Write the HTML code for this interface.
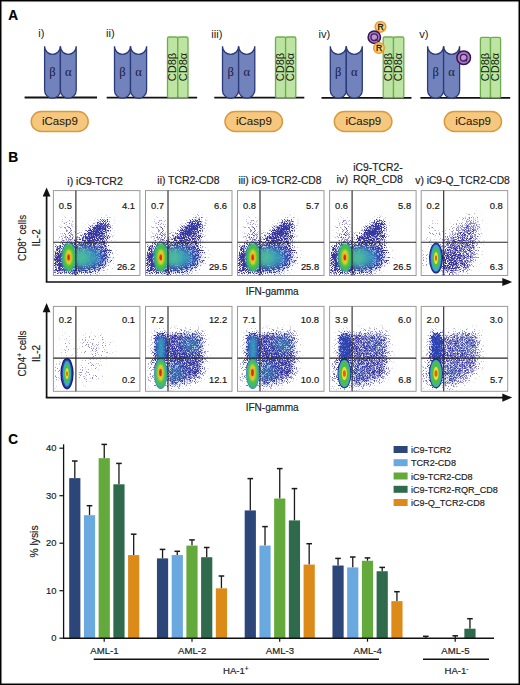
<!DOCTYPE html><html><head><meta charset="utf-8"><style>html,body{margin:0;padding:0;background:#fff;overflow:hidden;}svg{display:block;}</style></head><body><svg width="520" height="685" viewBox="0 0 520 685"><defs><filter id="b05" x="-50%" y="-50%" width="200%" height="200%"><feGaussianBlur stdDeviation="0.5"/></filter><filter id="b07" x="-50%" y="-50%" width="200%" height="200%"><feGaussianBlur stdDeviation="0.7"/></filter><filter id="b1" x="-50%" y="-50%" width="200%" height="200%"><feGaussianBlur stdDeviation="1.0"/></filter><filter id="b15" x="-50%" y="-50%" width="200%" height="200%"><feGaussianBlur stdDeviation="1.5"/></filter><filter id="b2" x="-50%" y="-50%" width="200%" height="200%"><feGaussianBlur stdDeviation="2.0"/></filter><filter id="b3" x="-50%" y="-50%" width="200%" height="200%"><feGaussianBlur stdDeviation="3.0"/></filter><filter id="b4" x="-50%" y="-50%" width="200%" height="200%"><feGaussianBlur stdDeviation="4.0"/></filter><filter id="spN" x="-30%" y="-30%" width="160%" height="160%" color-interpolation-filters="sRGB"><feGaussianBlur in="SourceAlpha" stdDeviation="3.0" result="bl"/><feTurbulence type="fractalNoise" baseFrequency="1.4" numOctaves="1" seed="7" result="nz"/><feColorMatrix in="nz" type="matrix" values="0 0 0 0 0  0 0 0 0 0  0 0 0 0 0  2.6 0 0 0 -0.8" result="na"/><feComposite in="bl" in2="na" operator="arithmetic" k1="0" k2="4" k3="-4" k4="0" result="m"/><feFlood flood-color="#38349a"/><feComposite in2="m" operator="in"/><feGaussianBlur stdDeviation="0.5"/></filter><filter id="spN2" x="-30%" y="-30%" width="160%" height="160%" color-interpolation-filters="sRGB"><feGaussianBlur in="SourceAlpha" stdDeviation="2.0" result="bl"/><feTurbulence type="fractalNoise" baseFrequency="1.4" numOctaves="1" seed="11" result="nz"/><feColorMatrix in="nz" type="matrix" values="0 0 0 0 0  0 0 0 0 0  0 0 0 0 0  2.6 0 0 0 -0.8" result="na"/><feComposite in="bl" in2="na" operator="arithmetic" k1="0" k2="4" k3="-4" k4="0" result="m"/><feFlood flood-color="#38349a"/><feComposite in2="m" operator="in"/><feGaussianBlur stdDeviation="0.5"/></filter><filter id="spL" x="-30%" y="-30%" width="160%" height="160%" color-interpolation-filters="sRGB"><feGaussianBlur in="SourceAlpha" stdDeviation="4.0" result="bl"/><feTurbulence type="fractalNoise" baseFrequency="1.3" numOctaves="1" seed="13" result="nz"/><feColorMatrix in="nz" type="matrix" values="0 0 0 0 0  0 0 0 0 0  0 0 0 0 0  2.6 0 0 0 -0.8" result="na"/><feComposite in="bl" in2="na" operator="arithmetic" k1="0" k2="4" k3="-4" k4="0" result="m"/><feFlood flood-color="#8a84c8"/><feComposite in2="m" operator="in"/><feGaussianBlur stdDeviation="0.55"/></filter><clipPath id="pc"><rect x="0" y="0" width="86.5" height="84.9"/></clipPath></defs><rect x="0" y="0" width="520" height="685" fill="#fff"/><rect x="0.75" y="0.75" width="518.5" height="683.5" fill="none" stroke="#000" stroke-width="1.5"/><rect x="1.75" y="1.75" width="516.5" height="681.5" fill="none" stroke="#888" stroke-width="0.6"/><text transform="translate(8.16,19.90) scale(0.970,1)" font-family='"Liberation Sans", sans-serif' font-size="14" fill="#000" stroke="#000" stroke-width="0.18" font-weight="bold">A</text><text transform="translate(8.30,161.70) scale(0.984,1)" font-family='"Liberation Sans", sans-serif' font-size="14" fill="#000" stroke="#000" stroke-width="0.18" font-weight="bold">B</text><text transform="translate(8.16,444.30) scale(0.971,1)" font-family='"Liberation Sans", sans-serif' font-size="14" fill="#000" stroke="#000" stroke-width="0.18" font-weight="bold">C</text><text transform="translate(38.27,37.10) scale(1.000,1)" font-family='"Liberation Sans", sans-serif' font-size="11.2" fill="#222" stroke="#222" stroke-width="0">i)</text><text transform="translate(105.97,37.30) scale(1.000,1)" font-family='"Liberation Sans", sans-serif' font-size="11.2" fill="#222" stroke="#222" stroke-width="0">ii)</text><text transform="translate(211.17,37.60) scale(1.000,1)" font-family='"Liberation Sans", sans-serif' font-size="11.2" fill="#222" stroke="#222" stroke-width="0">iii)</text><text transform="translate(318.47,37.50) scale(1.000,1)" font-family='"Liberation Sans", sans-serif' font-size="11.2" fill="#222" stroke="#222" stroke-width="0">iv)</text><text transform="translate(419.14,37.50) scale(1.000,1)" font-family='"Liberation Sans", sans-serif' font-size="11.2" fill="#222" stroke="#222" stroke-width="0">v)</text><line x1="24.6" y1="97.5" x2="97.0" y2="97.5" stroke="#111" stroke-width="1.8"/><line x1="106.7" y1="97.6" x2="197.1" y2="97.6" stroke="#111" stroke-width="1.8"/><line x1="214.3" y1="97.7" x2="304.3" y2="97.7" stroke="#111" stroke-width="1.8"/><line x1="321.5" y1="97.8" x2="411.5" y2="97.8" stroke="#111" stroke-width="1.8"/><line x1="420.4" y1="97.8" x2="510.2" y2="97.8" stroke="#111" stroke-width="1.8"/><path d="M44.6,46.3 A7.90,8.00 0 0 0 60.4,46.3 L60.4,90.3 A7.90,7.90 0 0 1 44.6,90.3 Z" fill="#7282bd" stroke="#2b3a78" stroke-width="1.3"/><path d="M60.4,46.3 A7.90,8.00 0 0 0 76.2,46.3 L76.2,90.3 A7.90,7.90 0 0 1 60.4,90.3 Z" fill="#7282bd" stroke="#2b3a78" stroke-width="1.3"/><text x="52.5" y="76" font-family='"Liberation Serif", serif' font-size="12.5" fill="#161a40" text-anchor="middle">&#946;</text><text x="68.3" y="76" font-family='"Liberation Serif", serif' font-size="12.5" fill="#161a40" text-anchor="middle">&#945;</text><path d="M114.5,46.3 A8.00,8.00 0 0 0 130.5,46.3 L130.5,90.2 A8.00,8.00 0 0 1 114.5,90.2 Z" fill="#7282bd" stroke="#2b3a78" stroke-width="1.3"/><path d="M130.5,46.3 A8.05,8.00 0 0 0 146.6,46.3 L146.6,90.2 A8.05,8.05 0 0 1 130.5,90.2 Z" fill="#7282bd" stroke="#2b3a78" stroke-width="1.3"/><text x="122.5" y="76" font-family='"Liberation Serif", serif' font-size="12.5" fill="#161a40" text-anchor="middle">&#946;</text><text x="138.6" y="76" font-family='"Liberation Serif", serif' font-size="12.5" fill="#161a40" text-anchor="middle">&#945;</text><path d="M222.5,46.3 A8.05,8.00 0 0 0 238.6,46.3 L238.6,90.2 A8.05,8.05 0 0 1 222.5,90.2 Z" fill="#7282bd" stroke="#2b3a78" stroke-width="1.3"/><path d="M238.6,46.3 A8.10,8.00 0 0 0 254.8,46.3 L254.8,90.1 A8.10,8.10 0 0 1 238.6,90.1 Z" fill="#7282bd" stroke="#2b3a78" stroke-width="1.3"/><text x="230.6" y="76" font-family='"Liberation Serif", serif' font-size="12.5" fill="#161a40" text-anchor="middle">&#946;</text><text x="246.7" y="76" font-family='"Liberation Serif", serif' font-size="12.5" fill="#161a40" text-anchor="middle">&#945;</text><path d="M330.3,46.3 A8.00,8.00 0 0 0 346.3,46.3 L346.3,90.2 A8.00,8.00 0 0 1 330.3,90.2 Z" fill="#7282bd" stroke="#2b3a78" stroke-width="1.3"/><path d="M346.3,46.3 A8.00,8.00 0 0 0 362.3,46.3 L362.3,90.2 A8.00,8.00 0 0 1 346.3,90.2 Z" fill="#7282bd" stroke="#2b3a78" stroke-width="1.3"/><text x="338.3" y="76" font-family='"Liberation Serif", serif' font-size="12.5" fill="#161a40" text-anchor="middle">&#946;</text><text x="354.3" y="76" font-family='"Liberation Serif", serif' font-size="12.5" fill="#161a40" text-anchor="middle">&#945;</text><path d="M427.6,46.3 A8.00,8.00 0 0 0 443.6,46.3 L443.6,90.2 A8.00,8.00 0 0 1 427.6,90.2 Z" fill="#7282bd" stroke="#2b3a78" stroke-width="1.3"/><path d="M443.6,46.3 A8.00,8.00 0 0 0 459.6,46.3 L459.6,90.2 A8.00,8.00 0 0 1 443.6,90.2 Z" fill="#7282bd" stroke="#2b3a78" stroke-width="1.3"/><text x="435.6" y="76" font-family='"Liberation Serif", serif' font-size="12.5" fill="#161a40" text-anchor="middle">&#946;</text><text x="451.6" y="76" font-family='"Liberation Serif", serif' font-size="12.5" fill="#161a40" text-anchor="middle">&#945;</text><rect x="167.5" y="37.0" width="10.2" height="60.6" rx="1.6" fill="#bde4a2" stroke="#6cae4c" stroke-width="1.3"/><rect x="177.8" y="37.0" width="10.2" height="60.6" rx="1.6" fill="#bde4a2" stroke="#6cae4c" stroke-width="1.3"/><text transform="translate(176.2,67.0) rotate(-90)" font-family='"Liberation Sans", sans-serif' font-size="11" fill="#10200a" text-anchor="middle">CD8&#946;</text><text transform="translate(186.5,67.0) rotate(-90)" font-family='"Liberation Sans", sans-serif' font-size="11" fill="#10200a" text-anchor="middle">CD8&#945;</text><rect x="275.5" y="37.0" width="10.1" height="60.6" rx="1.6" fill="#bde4a2" stroke="#6cae4c" stroke-width="1.3"/><rect x="285.6" y="37.0" width="10.2" height="60.6" rx="1.6" fill="#bde4a2" stroke="#6cae4c" stroke-width="1.3"/><text transform="translate(284.2,67.0) rotate(-90)" font-family='"Liberation Sans", sans-serif' font-size="11" fill="#10200a" text-anchor="middle">CD8&#946;</text><text transform="translate(294.3,67.0) rotate(-90)" font-family='"Liberation Sans", sans-serif' font-size="11" fill="#10200a" text-anchor="middle">CD8&#945;</text><rect x="383.2" y="37.0" width="10.3" height="60.6" rx="1.6" fill="#bde4a2" stroke="#6cae4c" stroke-width="1.3"/><rect x="393.5" y="37.0" width="10.3" height="60.6" rx="1.6" fill="#bde4a2" stroke="#6cae4c" stroke-width="1.3"/><text transform="translate(392.0,67.0) rotate(-90)" font-family='"Liberation Sans", sans-serif' font-size="11" fill="#10200a" text-anchor="middle">CD8&#946;</text><text transform="translate(402.2,67.0) rotate(-90)" font-family='"Liberation Sans", sans-serif' font-size="11" fill="#10200a" text-anchor="middle">CD8&#945;</text><rect x="480.4" y="37.4" width="10.1" height="60.2" rx="1.6" fill="#bde4a2" stroke="#6cae4c" stroke-width="1.3"/><rect x="490.5" y="37.4" width="10.1" height="60.2" rx="1.6" fill="#bde4a2" stroke="#6cae4c" stroke-width="1.3"/><text transform="translate(489.1,67.0) rotate(-90)" font-family='"Liberation Sans", sans-serif' font-size="11" fill="#10200a" text-anchor="middle">CD8&#946;</text><text transform="translate(499.2,67.0) rotate(-90)" font-family='"Liberation Sans", sans-serif' font-size="11" fill="#10200a" text-anchor="middle">CD8&#945;</text><rect x="31.2" y="111.6" width="57.0" height="19.9" rx="10.0" fill="#f5c77f" stroke="#d99a3c" stroke-width="1.5"/><text transform="translate(42.00,125.20) scale(1.000,1)" font-family='"Liberation Sans", sans-serif' font-size="11.5" fill="#1e1808" stroke="#1e1808" stroke-width="0.05">iCasp9</text><rect x="225.0" y="111.6" width="57.4" height="19.9" rx="10.0" fill="#f5c77f" stroke="#d99a3c" stroke-width="1.5"/><text transform="translate(236.00,125.20) scale(1.000,1)" font-family='"Liberation Sans", sans-serif' font-size="11.5" fill="#1e1808" stroke="#1e1808" stroke-width="0.05">iCasp9</text><rect x="334.3" y="111.6" width="57.6" height="19.9" rx="10.0" fill="#f5c77f" stroke="#d99a3c" stroke-width="1.5"/><text transform="translate(345.40,125.20) scale(1.000,1)" font-family='"Liberation Sans", sans-serif' font-size="11.5" fill="#1e1808" stroke="#1e1808" stroke-width="0.05">iCasp9</text><rect x="444.3" y="111.6" width="57.2" height="19.9" rx="10.0" fill="#f5c77f" stroke="#d99a3c" stroke-width="1.5"/><text transform="translate(455.20,125.20) scale(1.000,1)" font-family='"Liberation Sans", sans-serif' font-size="11.5" fill="#1e1808" stroke="#1e1808" stroke-width="0.05">iCasp9</text><circle cx="380.5" cy="26.8" r="5.3" fill="#fcd37a" stroke="#eb9e2a" stroke-width="1.6"/><text x="380.5" y="29.9" font-family='"Liberation Sans", sans-serif' font-size="8.6" fill="#1a1000" stroke="#1a1000" stroke-width="0.3" text-anchor="middle">R</text><circle cx="374.3" cy="37.2" r="6.2" fill="#a47ac4" stroke="#3a124e" stroke-width="1.5"/><circle cx="374.3" cy="37.2" r="3.3" fill="#b89ad2" stroke="#4a1a62" stroke-width="1.3"/><line x1="375.5" y1="38.800000000000004" x2="377.5" y2="40.800000000000004" stroke="#4a1a62" stroke-width="1.2"/><circle cx="379.0" cy="48.0" r="5.3" fill="#fcd37a" stroke="#eb9e2a" stroke-width="1.6"/><text x="379.0" y="51.1" font-family='"Liberation Sans", sans-serif' font-size="8.6" fill="#1a1000" stroke="#1a1000" stroke-width="0.3" text-anchor="middle">R</text><circle cx="463.7" cy="57.7" r="6.8" fill="#a47ac4" stroke="#3a124e" stroke-width="1.5"/><circle cx="463.7" cy="57.7" r="3.3" fill="#b89ad2" stroke="#4a1a62" stroke-width="1.3"/><line x1="464.9" y1="59.300000000000004" x2="466.9" y2="61.300000000000004" stroke="#4a1a62" stroke-width="1.2"/><g transform="translate(53.4,190.6)"><g clip-path="url(#pc)"><g filter="url(#spL)"><path d="M1,57 C6,53 14,52 20,52 L24,50 C30,44 39,36 47,30 C51,27 55,27 56,30 C57,38 56,46 55,52 C55,60 54,70 52,76 C48,81 40,83 30,84 L1,84 Z" fill="#000" fill-opacity="0.6"/><ellipse cx="15" cy="42" rx="7" ry="14" fill="#000" fill-opacity="0.5"/></g><g filter="url(#spN)"><path d="M1,57 C6,53 14,52 20,52 L24,50 C30,44 39,36 47,30 C51,27 55,27 56,30 C57,38 56,46 55,52 C55,60 54,70 52,76 C48,81 40,83 30,84 L1,84 Z" fill="#000" fill-opacity="0.45"/><ellipse cx="15" cy="44" rx="6" ry="11" fill="#000" fill-opacity="0.25"/><ellipse cx="56" cy="66" rx="5" ry="12" fill="#000" fill-opacity="0.3"/></g><g filter="url(#spN2)"><path d="M1,57 C6,53 14,52 20,52 L24,50 C30,44 39,36 47,30 C51,27 55,27 56,30 C57,38 56,46 55,52 C55,60 54,70 52,76 C48,81 40,83 30,84 L1,84 Z" fill="#000" fill-opacity="0.55"/><ellipse cx="22" cy="70" rx="20" ry="11" fill="#000" fill-opacity="0.45"/><ellipse cx="4" cy="70" rx="5" ry="12" fill="#000" fill-opacity="0.4"/><ellipse cx="44" cy="40" rx="10" ry="7" fill="#000" fill-opacity="0.5" transform="rotate(-40 44 40)"/><ellipse cx="38" cy="45" rx="9" ry="5" fill="#000" fill-opacity="0.35" transform="rotate(-40 38 45)"/></g><ellipse cx="46" cy="40" rx="8" ry="5" fill="#2848c0" fill-opacity="0.25" filter="url(#b3)" transform="rotate(-40 46 40)"/><ellipse cx="37" cy="67" rx="17" ry="11" fill="#2848c0" fill-opacity="0.45" filter="url(#b3)"/><ellipse cx="34" cy="67" rx="13" ry="9" fill="#38a6bc" fill-opacity="0.85" filter="url(#b3)"/><ellipse cx="28" cy="67" rx="8" ry="9" fill="#4cbc9a" fill-opacity="0.9" filter="url(#b3)"/><ellipse cx="15.4" cy="66.8" rx="7.4" ry="14.2" fill="#30a8c0" fill-opacity="0.9" filter="url(#b1)"/><ellipse cx="15.5" cy="66.6" rx="6.3" ry="13.2" fill="#44c040" filter="url(#b1)"/><ellipse cx="15.4" cy="66.6" rx="3.2" ry="7.8" fill="#e8e030" filter="url(#b1)"/><ellipse cx="15.3" cy="66.7" rx="2.2" ry="4.8" fill="#f0a018" filter="url(#b1)"/><ellipse cx="15.2" cy="66.8" rx="1.3" ry="2.8" fill="#dd2a12" filter="url(#b07)"/></g><rect x="0" y="0" width="86.5" height="84.9" fill="none" stroke="#9a9a9a" stroke-width="1"/><line x1="22.5" y1="0" x2="22.5" y2="84.9" stroke="#262626" stroke-width="1.1"/><line x1="0" y1="51.7" x2="86.5" y2="51.7" stroke="#262626" stroke-width="1.1"/></g><text transform="translate(58.82,208.80) scale(1.000,1)" font-family='"Liberation Sans", sans-serif' font-size="9.4" fill="#151515" stroke="#151515" stroke-width="0.18">0.5</text><text transform="translate(121.96,208.80) scale(1.000,1)" font-family='"Liberation Sans", sans-serif' font-size="9.4" fill="#151515" stroke="#151515" stroke-width="0.18">4.1</text><text transform="translate(116.89,269.90) scale(1.000,1)" font-family='"Liberation Sans", sans-serif' font-size="9.4" fill="#151515" stroke="#151515" stroke-width="0.18">26.2</text><g transform="translate(145.5,190.6)"><g clip-path="url(#pc)"><g filter="url(#spL)"><path d="M1,57 C6,53 14,52 20,52 L24,50 C30,44 40,34.5 48,28.5 C52,25.5 56,25.5 57,28.5 C58,38 56,46 55,52 C55,60 54,70 52,76 C48,81 40,83 30,84 L1,84 Z" fill="#000" fill-opacity="0.6"/><ellipse cx="15" cy="42" rx="7" ry="14" fill="#000" fill-opacity="0.5"/></g><g filter="url(#spN)"><path d="M1,57 C6,53 14,52 20,52 L24,50 C30,44 40,34.5 48,28.5 C52,25.5 56,25.5 57,28.5 C58,38 56,46 55,52 C55,60 54,70 52,76 C48,81 40,83 30,84 L1,84 Z" fill="#000" fill-opacity="0.45"/><ellipse cx="15" cy="44" rx="6" ry="11" fill="#000" fill-opacity="0.25"/><ellipse cx="56" cy="66" rx="5" ry="12" fill="#000" fill-opacity="0.3"/></g><g filter="url(#spN2)"><path d="M1,57 C6,53 14,52 20,52 L24,50 C30,44 40,34.5 48,28.5 C52,25.5 56,25.5 57,28.5 C58,38 56,46 55,52 C55,60 54,70 52,76 C48,81 40,83 30,84 L1,84 Z" fill="#000" fill-opacity="0.55"/><ellipse cx="22" cy="70" rx="20" ry="11" fill="#000" fill-opacity="0.45"/><ellipse cx="4" cy="70" rx="5" ry="12" fill="#000" fill-opacity="0.4"/><ellipse cx="45" cy="38.5" rx="10" ry="7" fill="#000" fill-opacity="0.5" transform="rotate(-40 45 38.5)"/><ellipse cx="39" cy="43.5" rx="9" ry="5" fill="#000" fill-opacity="0.35" transform="rotate(-40 39 43.5)"/></g><ellipse cx="47" cy="38.5" rx="8" ry="5" fill="#2848c0" fill-opacity="0.25" filter="url(#b3)" transform="rotate(-40 47 38.5)"/><ellipse cx="37" cy="67" rx="17" ry="11" fill="#2848c0" fill-opacity="0.45" filter="url(#b3)"/><ellipse cx="34" cy="67" rx="13" ry="9" fill="#38a6bc" fill-opacity="0.85" filter="url(#b3)"/><ellipse cx="28" cy="67" rx="8" ry="9" fill="#4cbc9a" fill-opacity="0.9" filter="url(#b3)"/><ellipse cx="15.4" cy="66.8" rx="7.4" ry="14.2" fill="#30a8c0" fill-opacity="0.9" filter="url(#b1)"/><ellipse cx="15.5" cy="66.6" rx="6.3" ry="13.2" fill="#44c040" filter="url(#b1)"/><ellipse cx="15.4" cy="66.6" rx="3.2" ry="7.8" fill="#e8e030" filter="url(#b1)"/><ellipse cx="15.3" cy="66.7" rx="2.2" ry="4.8" fill="#f0a018" filter="url(#b1)"/><ellipse cx="15.2" cy="66.8" rx="1.3" ry="2.8" fill="#dd2a12" filter="url(#b07)"/></g><rect x="0" y="0" width="86.5" height="84.9" fill="none" stroke="#9a9a9a" stroke-width="1"/><line x1="22.5" y1="0" x2="22.5" y2="84.9" stroke="#262626" stroke-width="1.1"/><line x1="0" y1="51.7" x2="86.5" y2="51.7" stroke="#262626" stroke-width="1.1"/></g><text transform="translate(150.92,208.80) scale(1.000,1)" font-family='"Liberation Sans", sans-serif' font-size="9.4" fill="#151515" stroke="#151515" stroke-width="0.18">0.7</text><text transform="translate(214.01,208.80) scale(1.000,1)" font-family='"Liberation Sans", sans-serif' font-size="9.4" fill="#151515" stroke="#151515" stroke-width="0.18">6.6</text><text transform="translate(208.89,269.90) scale(1.000,1)" font-family='"Liberation Sans", sans-serif' font-size="9.4" fill="#151515" stroke="#151515" stroke-width="0.18">29.5</text><g transform="translate(237.5,190.6)"><g clip-path="url(#pc)"><g filter="url(#spL)"><path d="M1,57 C6,53 14,52 20,52 L24,50 C30,44 39,36 47,30 C51,27 55,27 56,30 C57,38 56,46 55,52 C55,60 54,70 52,76 C48,81 40,83 30,84 L1,84 Z" fill="#000" fill-opacity="0.6"/><ellipse cx="15" cy="42" rx="7" ry="14" fill="#000" fill-opacity="0.5"/></g><g filter="url(#spN)"><path d="M1,57 C6,53 14,52 20,52 L24,50 C30,44 39,36 47,30 C51,27 55,27 56,30 C57,38 56,46 55,52 C55,60 54,70 52,76 C48,81 40,83 30,84 L1,84 Z" fill="#000" fill-opacity="0.45"/><ellipse cx="15" cy="44" rx="6" ry="11" fill="#000" fill-opacity="0.25"/><ellipse cx="56" cy="66" rx="5" ry="12" fill="#000" fill-opacity="0.3"/></g><g filter="url(#spN2)"><path d="M1,57 C6,53 14,52 20,52 L24,50 C30,44 39,36 47,30 C51,27 55,27 56,30 C57,38 56,46 55,52 C55,60 54,70 52,76 C48,81 40,83 30,84 L1,84 Z" fill="#000" fill-opacity="0.55"/><ellipse cx="22" cy="70" rx="20" ry="11" fill="#000" fill-opacity="0.45"/><ellipse cx="4" cy="70" rx="5" ry="12" fill="#000" fill-opacity="0.4"/><ellipse cx="44" cy="40" rx="10" ry="7" fill="#000" fill-opacity="0.5" transform="rotate(-40 44 40)"/><ellipse cx="38" cy="45" rx="9" ry="5" fill="#000" fill-opacity="0.35" transform="rotate(-40 38 45)"/></g><ellipse cx="46" cy="40" rx="8" ry="5" fill="#2848c0" fill-opacity="0.25" filter="url(#b3)" transform="rotate(-40 46 40)"/><ellipse cx="37" cy="67" rx="17" ry="11" fill="#2848c0" fill-opacity="0.45" filter="url(#b3)"/><ellipse cx="34" cy="67" rx="13" ry="9" fill="#38a6bc" fill-opacity="0.85" filter="url(#b3)"/><ellipse cx="28" cy="67" rx="8" ry="9" fill="#4cbc9a" fill-opacity="0.9" filter="url(#b3)"/><ellipse cx="15.4" cy="66.8" rx="7.4" ry="14.2" fill="#30a8c0" fill-opacity="0.9" filter="url(#b1)"/><ellipse cx="15.5" cy="66.6" rx="6.3" ry="13.2" fill="#44c040" filter="url(#b1)"/><ellipse cx="15.4" cy="66.6" rx="3.2" ry="7.8" fill="#e8e030" filter="url(#b1)"/><ellipse cx="15.3" cy="66.7" rx="2.2" ry="4.8" fill="#f0a018" filter="url(#b1)"/><ellipse cx="15.2" cy="66.8" rx="1.3" ry="2.8" fill="#dd2a12" filter="url(#b07)"/></g><rect x="0" y="0" width="86.5" height="84.9" fill="none" stroke="#9a9a9a" stroke-width="1"/><line x1="22.5" y1="0" x2="22.5" y2="84.9" stroke="#262626" stroke-width="1.1"/><line x1="0" y1="51.7" x2="86.5" y2="51.7" stroke="#262626" stroke-width="1.1"/></g><text transform="translate(242.92,208.80) scale(1.000,1)" font-family='"Liberation Sans", sans-serif' font-size="9.4" fill="#151515" stroke="#151515" stroke-width="0.18">0.8</text><text transform="translate(306.10,208.80) scale(1.000,1)" font-family='"Liberation Sans", sans-serif' font-size="9.4" fill="#151515" stroke="#151515" stroke-width="0.18">5.7</text><text transform="translate(300.89,269.90) scale(1.000,1)" font-family='"Liberation Sans", sans-serif' font-size="9.4" fill="#151515" stroke="#151515" stroke-width="0.18">25.8</text><g transform="translate(329.6,190.6)"><g clip-path="url(#pc)"><g filter="url(#spL)"><path d="M1,57 C6,53 14,52 20,52 L24,50 C30,44 38.5,36 46.5,30 C50.5,27 54.5,27 55.5,30 C56.5,38 56,46 55,52 C55,60 54,70 52,76 C48,81 40,83 30,84 L1,84 Z" fill="#000" fill-opacity="0.6"/><ellipse cx="15" cy="42" rx="7" ry="14" fill="#000" fill-opacity="0.5"/></g><g filter="url(#spN)"><path d="M1,57 C6,53 14,52 20,52 L24,50 C30,44 38.5,36 46.5,30 C50.5,27 54.5,27 55.5,30 C56.5,38 56,46 55,52 C55,60 54,70 52,76 C48,81 40,83 30,84 L1,84 Z" fill="#000" fill-opacity="0.45"/><ellipse cx="15" cy="44" rx="6" ry="11" fill="#000" fill-opacity="0.25"/><ellipse cx="56" cy="66" rx="5" ry="12" fill="#000" fill-opacity="0.3"/></g><g filter="url(#spN2)"><path d="M1,57 C6,53 14,52 20,52 L24,50 C30,44 38.5,36 46.5,30 C50.5,27 54.5,27 55.5,30 C56.5,38 56,46 55,52 C55,60 54,70 52,76 C48,81 40,83 30,84 L1,84 Z" fill="#000" fill-opacity="0.55"/><ellipse cx="22" cy="70" rx="20" ry="11" fill="#000" fill-opacity="0.45"/><ellipse cx="4" cy="70" rx="5" ry="12" fill="#000" fill-opacity="0.4"/><ellipse cx="43.5" cy="40" rx="10" ry="7" fill="#000" fill-opacity="0.5" transform="rotate(-40 43.5 40)"/><ellipse cx="37.5" cy="45" rx="9" ry="5" fill="#000" fill-opacity="0.35" transform="rotate(-40 37.5 45)"/></g><ellipse cx="45.5" cy="40" rx="8" ry="5" fill="#2848c0" fill-opacity="0.25" filter="url(#b3)" transform="rotate(-40 45.5 40)"/><ellipse cx="37" cy="67" rx="17" ry="11" fill="#2848c0" fill-opacity="0.45" filter="url(#b3)"/><ellipse cx="34" cy="67" rx="13" ry="9" fill="#38a6bc" fill-opacity="0.85" filter="url(#b3)"/><ellipse cx="28" cy="67" rx="8" ry="9" fill="#4cbc9a" fill-opacity="0.9" filter="url(#b3)"/><ellipse cx="15.4" cy="66.8" rx="7.4" ry="14.2" fill="#30a8c0" fill-opacity="0.9" filter="url(#b1)"/><ellipse cx="15.5" cy="66.6" rx="6.3" ry="13.2" fill="#44c040" filter="url(#b1)"/><ellipse cx="15.4" cy="66.6" rx="3.2" ry="7.8" fill="#e8e030" filter="url(#b1)"/><ellipse cx="15.3" cy="66.7" rx="2.2" ry="4.8" fill="#f0a018" filter="url(#b1)"/><ellipse cx="15.2" cy="66.8" rx="1.3" ry="2.8" fill="#dd2a12" filter="url(#b07)"/></g><rect x="0" y="0" width="86.5" height="84.9" fill="none" stroke="#9a9a9a" stroke-width="1"/><line x1="22.5" y1="0" x2="22.5" y2="84.9" stroke="#262626" stroke-width="1.1"/><line x1="0" y1="51.7" x2="86.5" y2="51.7" stroke="#262626" stroke-width="1.1"/></g><text transform="translate(335.02,208.80) scale(1.000,1)" font-family='"Liberation Sans", sans-serif' font-size="9.4" fill="#151515" stroke="#151515" stroke-width="0.18">0.6</text><text transform="translate(398.11,208.80) scale(1.000,1)" font-family='"Liberation Sans", sans-serif' font-size="9.4" fill="#151515" stroke="#151515" stroke-width="0.18">5.8</text><text transform="translate(392.99,269.90) scale(1.000,1)" font-family='"Liberation Sans", sans-serif' font-size="9.4" fill="#151515" stroke="#151515" stroke-width="0.18">26.5</text><g transform="translate(421.2,190.6)"><g clip-path="url(#pc)"><g filter="url(#spL)"><path d="M20,52 C28,42 38,32 48,26 C54,24 58,26 58,32 C58,45 57,60 55,70 C52,78 46,82 38,84 L20,84 Z" fill="#000" fill-opacity="0.7"/><ellipse cx="13" cy="44" rx="6" ry="13" fill="#000" fill-opacity="0.4"/><ellipse cx="4" cy="68" rx="5" ry="12" fill="#000" fill-opacity="0.35"/></g><g filter="url(#spN)"><path d="M21,55 C28,48 36,42 44,36 C50,33 54,36 54,44 C54,55 52,64 50,72 C46,79 40,82 32,84 L21,84 Z" fill="#000" fill-opacity="0.5"/></g><g filter="url(#spN2)"><ellipse cx="29" cy="70" rx="10" ry="11" fill="#000" fill-opacity="0.55"/></g><ellipse cx="14.8" cy="67.5" rx="7.0" ry="15.4" fill="#1c1a70" filter="url(#b07)"/><ellipse cx="14.8" cy="67.5" rx="6.16" ry="14.48" fill="#2848c0" filter="url(#b07)"/><ellipse cx="14.8" cy="67.5" rx="5.04" ry="13.24" fill="#3aaabb" filter="url(#b07)"/><ellipse cx="14.8" cy="67.5" rx="3.5" ry="10.16" fill="#4cbf4a" filter="url(#b07)"/><ellipse cx="14.8" cy="67.5" rx="2.1" ry="6.16" fill="#e8e030" filter="url(#b07)"/><ellipse cx="14.8" cy="67.5" rx="1.05" ry="2.93" fill="#e86010" filter="url(#b05)"/></g><rect x="0" y="0" width="86.5" height="84.9" fill="none" stroke="#9a9a9a" stroke-width="1"/><line x1="22.5" y1="0" x2="22.5" y2="84.9" stroke="#262626" stroke-width="1.1"/><line x1="0" y1="51.7" x2="86.5" y2="51.7" stroke="#262626" stroke-width="1.1"/></g><text transform="translate(426.62,208.80) scale(1.000,1)" font-family='"Liberation Sans", sans-serif' font-size="9.4" fill="#151515" stroke="#151515" stroke-width="0.18">0.2</text><text transform="translate(489.71,208.80) scale(1.000,1)" font-family='"Liberation Sans", sans-serif' font-size="9.4" fill="#151515" stroke="#151515" stroke-width="0.18">0.8</text><text transform="translate(489.81,269.90) scale(1.000,1)" font-family='"Liberation Sans", sans-serif' font-size="9.4" fill="#151515" stroke="#151515" stroke-width="0.18">6.3</text><line x1="46.6" y1="282.0" x2="46.6" y2="193.4" stroke="#111" stroke-width="1.7"/><path d="M46.6,187.4 L42.7,196.6 L50.5,196.6 Z" fill="#111"/><line x1="45.8" y1="282.0" x2="506" y2="282.0" stroke="#111" stroke-width="1.7"/><path d="M512.2,282.0 L502.3,277.9 L502.3,286.1 Z" fill="#111"/><text transform="translate(245.70,294.90) scale(0.939,1)" font-family='"Liberation Sans", sans-serif' font-size="10.7" fill="#222" stroke="#222" stroke-width="0.18">IFN-gamma</text><text transform="translate(26.4,260.9) rotate(-90)" font-family='"Liberation Sans", sans-serif' font-size="11.2" fill="#222" stroke="#222" stroke-width="0.18" textLength="46" lengthAdjust="spacingAndGlyphs">CD8<tspan font-size="7.5" dy="-4.2">+</tspan><tspan dy="4.2"> cells</tspan></text><text transform="translate(39.7,246.5) rotate(-90)" font-family='"Liberation Sans", sans-serif' font-size="10.5" fill="#222" stroke="#222" stroke-width="0.18" textLength="17.3" lengthAdjust="spacingAndGlyphs">IL-2</text><g transform="translate(53.4,306.4)"><g clip-path="url(#pc)"><g filter="url(#spL)"><ellipse cx="42" cy="40" rx="17" ry="13" fill="#000" fill-opacity="0.3"/><ellipse cx="36" cy="66" rx="14" ry="12" fill="#000" fill-opacity="0.28"/><ellipse cx="13" cy="40" rx="4" ry="12" fill="#000" fill-opacity="0.4"/><ellipse cx="5" cy="68" rx="5" ry="12" fill="#000" fill-opacity="0.4"/></g><ellipse cx="13.6" cy="67.2" rx="6.6" ry="15.8" fill="#1c1a70" filter="url(#b07)"/><ellipse cx="13.6" cy="67.2" rx="5.28" ry="14.22" fill="#2848c0" filter="url(#b07)"/><ellipse cx="13.6" cy="67.2" rx="4.09" ry="12.64" fill="#3aaabb" filter="url(#b07)"/><ellipse cx="13.6" cy="67.2" rx="2.9" ry="9.48" fill="#4cbf4a" filter="url(#b07)"/><ellipse cx="13.6" cy="67.2" rx="1.72" ry="5.69" fill="#e8e030" filter="url(#b07)"/><ellipse cx="13.6" cy="67.2" rx="0.86" ry="2.69" fill="#e86010" filter="url(#b05)"/></g><rect x="0" y="0" width="86.5" height="84.9" fill="none" stroke="#9a9a9a" stroke-width="1"/><line x1="22.5" y1="0" x2="22.5" y2="84.9" stroke="#262626" stroke-width="1.1"/><line x1="0" y1="51.7" x2="86.5" y2="51.7" stroke="#262626" stroke-width="1.1"/></g><text transform="translate(58.82,322.90) scale(1.000,1)" font-family='"Liberation Sans", sans-serif' font-size="9.4" fill="#151515" stroke="#151515" stroke-width="0.18">0.2</text><text transform="translate(121.96,322.90) scale(1.000,1)" font-family='"Liberation Sans", sans-serif' font-size="9.4" fill="#151515" stroke="#151515" stroke-width="0.18">0.1</text><text transform="translate(122.10,382.60) scale(1.000,1)" font-family='"Liberation Sans", sans-serif' font-size="9.4" fill="#151515" stroke="#151515" stroke-width="0.18">0.2</text><g transform="translate(145.5,306.4)"><g clip-path="url(#pc)"><g filter="url(#spL)"><path d="M21,28 C30,25 48,24 57,26 C60,40 59,60 57,71 C48,76 35,80 21,82 Z" fill="#000" fill-opacity="0.75"/><ellipse cx="15" cy="44" rx="8" ry="20" fill="#000" fill-opacity="0.5"/><ellipse cx="6" cy="68" rx="5" ry="14" fill="#000" fill-opacity="0.35"/></g><g filter="url(#spN)"><path d="M21,28 C30,25 48,24 57,26 C60,40 59,60 57,71 C48,76 35,80 21,82 Z" fill="#000" fill-opacity="0.4"/><ellipse cx="15" cy="44" rx="7" ry="20" fill="#000" fill-opacity="0.5"/><ellipse cx="14" cy="66" rx="9" ry="16" fill="#000" fill-opacity="0.35"/></g><g filter="url(#spN2)"><path d="M23,31 C31,28 47,28 54,29 C56,42 55,58 54,68 C46,73 35,76 23,78 Z" fill="#000" fill-opacity="0.6000000000000001"/><rect x="9.5" y="26.5" width="12" height="28" rx="4" fill="#000" fill-opacity="0.9"/></g><path d="M23,31 C31,28 47,28 54,29 C56,42 55,58 54,68 C46,73 35,76 23,78 Z" fill="#2848c0" fill-opacity="0.17600000000000002" filter="url(#b3)"/><rect x="10" y="28" width="11" height="26" rx="4" fill="#2a50c0" fill-opacity="0.55" filter="url(#b15)"/><rect x="12" y="31" width="7" height="22" rx="3.5" fill="#3aa8c0" fill-opacity="0.8" filter="url(#b15)"/><ellipse cx="45" cy="38" rx="9" ry="7" fill="#3aaabb" fill-opacity="0.45" filter="url(#b3)"/><ellipse cx="30" cy="66" rx="8" ry="9" fill="#3aaabb" fill-opacity="0.4" filter="url(#b3)"/><ellipse cx="15.2" cy="67.2" rx="6.7" ry="15.4" fill="#2a70c0" fill-opacity="0.9" filter="url(#b07)"/><ellipse cx="15.2" cy="67.2" rx="6.0" ry="14.6" fill="#36a8b8" filter="url(#b07)"/><ellipse cx="15.2" cy="67.0" rx="5.1" ry="13.4" fill="#4cbf4a" filter="url(#b1)"/><ellipse cx="15.1" cy="66.3" rx="2.9" ry="8.4" fill="#e8e030" filter="url(#b1)"/><ellipse cx="15.0" cy="66.2" rx="2.0" ry="5.6" fill="#f0a018" filter="url(#b1)"/><ellipse cx="15.0" cy="66.2" rx="1.3" ry="3.6" fill="#dd2a12" filter="url(#b07)"/></g><rect x="0" y="0" width="86.5" height="84.9" fill="none" stroke="#9a9a9a" stroke-width="1"/><line x1="22.5" y1="0" x2="22.5" y2="84.9" stroke="#262626" stroke-width="1.1"/><line x1="0" y1="51.7" x2="86.5" y2="51.7" stroke="#262626" stroke-width="1.1"/></g><text transform="translate(150.83,322.90) scale(1.000,1)" font-family='"Liberation Sans", sans-serif' font-size="9.4" fill="#151515" stroke="#151515" stroke-width="0.18">7.2</text><text transform="translate(208.89,322.90) scale(1.000,1)" font-family='"Liberation Sans", sans-serif' font-size="9.4" fill="#151515" stroke="#151515" stroke-width="0.18">12.2</text><text transform="translate(208.94,382.60) scale(1.000,1)" font-family='"Liberation Sans", sans-serif' font-size="9.4" fill="#151515" stroke="#151515" stroke-width="0.18">12.1</text><g transform="translate(237.5,306.4)"><g clip-path="url(#pc)"><g filter="url(#spL)"><path d="M21,28 C30,25 48,24 57,26 C60,40 59,60 57,71 C48,76 35,80 21,82 Z" fill="#000" fill-opacity="0.75"/><ellipse cx="15" cy="44" rx="8" ry="20" fill="#000" fill-opacity="0.5"/><ellipse cx="6" cy="68" rx="5" ry="14" fill="#000" fill-opacity="0.35"/></g><g filter="url(#spN)"><path d="M21,28 C30,25 48,24 57,26 C60,40 59,60 57,71 C48,76 35,80 21,82 Z" fill="#000" fill-opacity="0.4"/><ellipse cx="15" cy="44" rx="7" ry="20" fill="#000" fill-opacity="0.5"/><ellipse cx="14" cy="66" rx="9" ry="16" fill="#000" fill-opacity="0.35"/></g><g filter="url(#spN2)"><path d="M23,31 C31,28 47,28 54,29 C56,42 55,58 54,68 C46,73 35,76 23,78 Z" fill="#000" fill-opacity="0.6000000000000001"/><rect x="9.5" y="26.5" width="12" height="28" rx="4" fill="#000" fill-opacity="0.9"/></g><path d="M23,31 C31,28 47,28 54,29 C56,42 55,58 54,68 C46,73 35,76 23,78 Z" fill="#2848c0" fill-opacity="0.17600000000000002" filter="url(#b3)"/><rect x="10" y="28" width="11" height="26" rx="4" fill="#2a50c0" fill-opacity="0.55" filter="url(#b15)"/><rect x="12" y="31" width="7" height="22" rx="3.5" fill="#3aa8c0" fill-opacity="0.8" filter="url(#b15)"/><ellipse cx="45" cy="38" rx="9" ry="7" fill="#3aaabb" fill-opacity="0.45" filter="url(#b3)"/><ellipse cx="30" cy="66" rx="8" ry="9" fill="#3aaabb" fill-opacity="0.4" filter="url(#b3)"/><ellipse cx="15.2" cy="67.2" rx="6.7" ry="15.4" fill="#2a70c0" fill-opacity="0.9" filter="url(#b07)"/><ellipse cx="15.2" cy="67.2" rx="6.0" ry="14.6" fill="#36a8b8" filter="url(#b07)"/><ellipse cx="15.2" cy="67.0" rx="5.1" ry="13.4" fill="#4cbf4a" filter="url(#b1)"/><ellipse cx="15.1" cy="66.3" rx="2.9" ry="8.4" fill="#e8e030" filter="url(#b1)"/><ellipse cx="15.0" cy="66.2" rx="2.0" ry="5.6" fill="#f0a018" filter="url(#b1)"/><ellipse cx="15.0" cy="66.2" rx="1.3" ry="3.6" fill="#dd2a12" filter="url(#b07)"/></g><rect x="0" y="0" width="86.5" height="84.9" fill="none" stroke="#9a9a9a" stroke-width="1"/><line x1="22.5" y1="0" x2="22.5" y2="84.9" stroke="#262626" stroke-width="1.1"/><line x1="0" y1="51.7" x2="86.5" y2="51.7" stroke="#262626" stroke-width="1.1"/></g><text transform="translate(242.83,322.90) scale(1.000,1)" font-family='"Liberation Sans", sans-serif' font-size="9.4" fill="#151515" stroke="#151515" stroke-width="0.18">7.1</text><text transform="translate(300.79,322.90) scale(1.000,1)" font-family='"Liberation Sans", sans-serif' font-size="9.4" fill="#151515" stroke="#151515" stroke-width="0.18">10.8</text><text transform="translate(300.85,382.60) scale(1.000,1)" font-family='"Liberation Sans", sans-serif' font-size="9.4" fill="#151515" stroke="#151515" stroke-width="0.18">10.0</text><g transform="translate(329.6,306.4)"><g clip-path="url(#pc)"><g filter="url(#spL)"><path d="M21,28 C30,25 48,24 57,26 C60,40 59,60 57,71 C48,76 35,80 21,82 Z" fill="#000" fill-opacity="0.75"/><ellipse cx="15" cy="44" rx="8" ry="20" fill="#000" fill-opacity="0.5"/><ellipse cx="6" cy="68" rx="5" ry="14" fill="#000" fill-opacity="0.5"/></g><g filter="url(#spN)"><path d="M21,28 C30,25 48,24 57,26 C60,40 59,60 57,71 C48,76 35,80 21,82 Z" fill="#000" fill-opacity="0.31"/><ellipse cx="15" cy="44" rx="7" ry="20" fill="#000" fill-opacity="0.5"/><ellipse cx="14" cy="66" rx="9" ry="16" fill="#000" fill-opacity="0.5"/></g><g filter="url(#spN2)"><path d="M23,31 C31,28 47,28 54,29 C56,42 55,58 54,68 C46,73 35,76 23,78 Z" fill="#000" fill-opacity="0.46499999999999997"/><rect x="9.5" y="26.5" width="12" height="28" rx="4" fill="#000" fill-opacity="0.9"/></g><path d="M23,31 C31,28 47,28 54,29 C56,42 55,58 54,68 C46,73 35,76 23,78 Z" fill="#2848c0" fill-opacity="0.1364" filter="url(#b3)"/><rect x="10.5" y="28" width="10" height="25" rx="4" fill="#2a50c0" fill-opacity="0.6" filter="url(#b15)"/><ellipse cx="45" cy="38" rx="9" ry="7" fill="#3aaabb" fill-opacity="0.15" filter="url(#b3)"/><ellipse cx="30" cy="66" rx="8" ry="9" fill="#3aaabb" fill-opacity="0.15" filter="url(#b3)"/><ellipse cx="14.8" cy="67.1" rx="6.9" ry="14.8" fill="#1c1a70" filter="url(#b07)"/><ellipse cx="14.8" cy="67.1" rx="6.42" ry="14.21" fill="#2848c0" filter="url(#b07)"/><ellipse cx="14.8" cy="67.1" rx="5.93" ry="13.62" fill="#3aaabb" filter="url(#b07)"/><ellipse cx="14.8" cy="67.1" rx="4.69" ry="12.73" fill="#4cbf4a" filter="url(#b07)"/><ellipse cx="14.8" cy="67.1" rx="2.55" ry="6.66" fill="#e8e030" filter="url(#b07)"/><ellipse cx="14.8" cy="67.1" rx="1.52" ry="3.26" fill="#e86010" filter="url(#b05)"/></g><rect x="0" y="0" width="86.5" height="84.9" fill="none" stroke="#9a9a9a" stroke-width="1"/><line x1="22.5" y1="0" x2="22.5" y2="84.9" stroke="#262626" stroke-width="1.1"/><line x1="0" y1="51.7" x2="86.5" y2="51.7" stroke="#262626" stroke-width="1.1"/></g><text transform="translate(335.02,322.90) scale(1.000,1)" font-family='"Liberation Sans", sans-serif' font-size="9.4" fill="#151515" stroke="#151515" stroke-width="0.18">3.9</text><text transform="translate(398.06,322.90) scale(1.000,1)" font-family='"Liberation Sans", sans-serif' font-size="9.4" fill="#151515" stroke="#151515" stroke-width="0.18">6.0</text><text transform="translate(398.21,382.60) scale(1.000,1)" font-family='"Liberation Sans", sans-serif' font-size="9.4" fill="#151515" stroke="#151515" stroke-width="0.18">6.8</text><g transform="translate(421.2,306.4)"><g clip-path="url(#pc)"><g filter="url(#spL)"><path d="M21,30 C30,26 48,24 57,26 C60,40 58,55 56,64 C50,72 38,80 21,82 Z" fill="#000" fill-opacity="0.75"/><ellipse cx="15" cy="44" rx="8" ry="20" fill="#000" fill-opacity="0.5"/><ellipse cx="6" cy="68" rx="5" ry="14" fill="#000" fill-opacity="0.5"/></g><g filter="url(#spN)"><path d="M21,30 C30,26 48,24 57,26 C60,40 58,55 56,64 C50,72 38,80 21,82 Z" fill="#000" fill-opacity="0.26"/><ellipse cx="15" cy="44" rx="7" ry="20" fill="#000" fill-opacity="0.5"/><ellipse cx="14" cy="66" rx="9" ry="16" fill="#000" fill-opacity="0.5"/></g><g filter="url(#spN2)"><path d="M23,33 C31,29 47,28 53,30 C55,42 54,52 52,60 C46,68 35,74 23,77 Z" fill="#000" fill-opacity="0.39"/><rect x="9.5" y="26.5" width="12" height="28" rx="4" fill="#000" fill-opacity="0.9"/></g><path d="M23,33 C31,29 47,28 53,30 C55,42 54,52 52,60 C46,68 35,74 23,77 Z" fill="#2848c0" fill-opacity="0.1144" filter="url(#b3)"/><rect x="10.5" y="28" width="10" height="25" rx="4" fill="#2a50c0" fill-opacity="0.6" filter="url(#b15)"/><ellipse cx="45" cy="38" rx="9" ry="7" fill="#3aaabb" fill-opacity="0.15" filter="url(#b3)"/><ellipse cx="30" cy="66" rx="8" ry="9" fill="#3aaabb" fill-opacity="0.15" filter="url(#b3)"/><ellipse cx="14.8" cy="67.1" rx="6.9" ry="14.8" fill="#1c1a70" filter="url(#b07)"/><ellipse cx="14.8" cy="67.1" rx="6.42" ry="14.21" fill="#2848c0" filter="url(#b07)"/><ellipse cx="14.8" cy="67.1" rx="5.93" ry="13.62" fill="#3aaabb" filter="url(#b07)"/><ellipse cx="14.8" cy="67.1" rx="4.69" ry="12.73" fill="#4cbf4a" filter="url(#b07)"/><ellipse cx="14.8" cy="67.1" rx="2.55" ry="6.66" fill="#e8e030" filter="url(#b07)"/><ellipse cx="14.8" cy="67.1" rx="1.52" ry="3.26" fill="#e86010" filter="url(#b05)"/></g><rect x="0" y="0" width="86.5" height="84.9" fill="none" stroke="#9a9a9a" stroke-width="1"/><line x1="22.5" y1="0" x2="22.5" y2="84.9" stroke="#262626" stroke-width="1.1"/><line x1="0" y1="51.7" x2="86.5" y2="51.7" stroke="#262626" stroke-width="1.1"/></g><text transform="translate(426.53,322.90) scale(1.000,1)" font-family='"Liberation Sans", sans-serif' font-size="9.4" fill="#151515" stroke="#151515" stroke-width="0.18">2.0</text><text transform="translate(489.66,322.90) scale(1.000,1)" font-family='"Liberation Sans", sans-serif' font-size="9.4" fill="#151515" stroke="#151515" stroke-width="0.18">3.0</text><text transform="translate(489.90,382.60) scale(1.000,1)" font-family='"Liberation Sans", sans-serif' font-size="9.4" fill="#151515" stroke="#151515" stroke-width="0.18">5.7</text><line x1="46.6" y1="397.6" x2="46.6" y2="309.0" stroke="#111" stroke-width="1.7"/><path d="M46.6,303.0 L42.7,312.2 L50.5,312.2 Z" fill="#111"/><line x1="45.8" y1="397.6" x2="506" y2="397.6" stroke="#111" stroke-width="1.7"/><path d="M512.2,397.6 L502.3,393.5 L502.3,401.70000000000005 Z" fill="#111"/><text transform="translate(245.70,410.50) scale(0.939,1)" font-family='"Liberation Sans", sans-serif' font-size="10.7" fill="#222" stroke="#222" stroke-width="0.18">IFN-gamma</text><text transform="translate(26.4,376.5) rotate(-90)" font-family='"Liberation Sans", sans-serif' font-size="11.2" fill="#222" stroke="#222" stroke-width="0.18" textLength="46" lengthAdjust="spacingAndGlyphs">CD4<tspan font-size="7.5" dy="-4.2">+</tspan><tspan dy="4.2"> cells</tspan></text><text transform="translate(39.7,362.1) rotate(-90)" font-family='"Liberation Sans", sans-serif' font-size="10.5" fill="#222" stroke="#222" stroke-width="0.18" textLength="17.3" lengthAdjust="spacingAndGlyphs">IL-2</text><text transform="translate(67.32,184.60) scale(0.993,1)" font-family='"Liberation Sans", sans-serif' font-size="10.6" fill="#222" stroke="#222" stroke-width="0.18">i) iC9-TCR2</text><text transform="translate(157.33,184.40) scale(0.980,1)" font-family='"Liberation Sans", sans-serif' font-size="10.6" fill="#222" stroke="#222" stroke-width="0.18">ii) TCR2-CD8</text><text transform="translate(238.43,183.50) scale(0.975,1)" font-family='"Liberation Sans", sans-serif' font-size="10.6" fill="#222" stroke="#222" stroke-width="0.18">iii) iC9-TCR2-CD8</text><text transform="translate(336.60,182.70) scale(1.020,1)" font-family='"Liberation Sans", sans-serif' font-size="10.6" fill="#222" stroke="#222" stroke-width="0.18">iv)</text><text transform="translate(353.07,182.70) scale(0.980,1)" font-family='"Liberation Sans", sans-serif' font-size="10.6" fill="#222" stroke="#222" stroke-width="0.18">RQR_CD8</text><text transform="translate(353.23,171.40) scale(0.978,1)" font-family='"Liberation Sans", sans-serif' font-size="10.6" fill="#222" stroke="#222" stroke-width="0.18">iC9-TCR2-</text><text transform="translate(415.25,183.60) scale(0.968,1)" font-family='"Liberation Sans", sans-serif' font-size="10.6" fill="#222" stroke="#222" stroke-width="0.18">v) iC9-Q_TCR2-CD8</text><line x1="74.80" y1="478.1" x2="74.80" y2="461.0" stroke="#1a1a1a" stroke-width="1.3"/><line x1="72.00" y1="461.0" x2="77.60" y2="461.0" stroke="#1a1a1a" stroke-width="1.5"/><rect x="69.20" y="478.12" width="11.2" height="160.08" fill="#2c4679"/><line x1="89.52" y1="515.2" x2="89.52" y2="505.7" stroke="#1a1a1a" stroke-width="1.3"/><line x1="86.72" y1="505.7" x2="92.32" y2="505.7" stroke="#1a1a1a" stroke-width="1.5"/><rect x="83.92" y="515.18" width="11.2" height="123.02" fill="#69a9e0"/><line x1="104.24" y1="458.2" x2="104.24" y2="444.4" stroke="#1a1a1a" stroke-width="1.3"/><line x1="101.44" y1="444.4" x2="107.04" y2="444.4" stroke="#1a1a1a" stroke-width="1.5"/><rect x="98.64" y="458.18" width="11.2" height="180.03" fill="#64a93b"/><line x1="118.96" y1="484.3" x2="118.96" y2="463.4" stroke="#1a1a1a" stroke-width="1.3"/><line x1="116.16" y1="463.4" x2="121.76" y2="463.4" stroke="#1a1a1a" stroke-width="1.5"/><rect x="113.36" y="484.30" width="11.2" height="153.90" fill="#2f6a4c"/><line x1="133.68" y1="555.1" x2="133.68" y2="534.2" stroke="#1a1a1a" stroke-width="1.3"/><line x1="130.88" y1="534.2" x2="136.48" y2="534.2" stroke="#1a1a1a" stroke-width="1.5"/><rect x="128.08" y="555.08" width="11.2" height="83.12" fill="#dc8a18"/><line x1="104.2" y1="638.2" x2="104.2" y2="641.7" stroke="#111" stroke-width="1.2"/><text transform="translate(90.32,653.80) scale(1.000,1)" font-family='"Liberation Sans", sans-serif' font-size="9.6" fill="#222" stroke="#222" stroke-width="0.18">AML-1</text><line x1="162.55" y1="558.4" x2="162.55" y2="549.4" stroke="#1a1a1a" stroke-width="1.3"/><line x1="159.75" y1="549.4" x2="165.35" y2="549.4" stroke="#1a1a1a" stroke-width="1.5"/><rect x="156.95" y="558.40" width="11.2" height="79.80" fill="#2c4679"/><line x1="177.27" y1="555.1" x2="177.27" y2="551.3" stroke="#1a1a1a" stroke-width="1.3"/><line x1="174.47" y1="551.3" x2="180.07" y2="551.3" stroke="#1a1a1a" stroke-width="1.5"/><rect x="171.67" y="555.08" width="11.2" height="83.12" fill="#69a9e0"/><line x1="191.99" y1="545.6" x2="191.99" y2="539.9" stroke="#1a1a1a" stroke-width="1.3"/><line x1="189.19" y1="539.9" x2="194.79" y2="539.9" stroke="#1a1a1a" stroke-width="1.5"/><rect x="186.39" y="545.58" width="11.2" height="92.62" fill="#64a93b"/><line x1="206.71" y1="557.2" x2="206.71" y2="547.5" stroke="#1a1a1a" stroke-width="1.3"/><line x1="203.91" y1="547.5" x2="209.51" y2="547.5" stroke="#1a1a1a" stroke-width="1.5"/><rect x="201.11" y="557.21" width="11.2" height="80.99" fill="#2f6a4c"/><line x1="221.43" y1="588.3" x2="221.43" y2="576.0" stroke="#1a1a1a" stroke-width="1.3"/><line x1="218.63" y1="576.0" x2="224.23" y2="576.0" stroke="#1a1a1a" stroke-width="1.5"/><rect x="215.83" y="588.33" width="11.2" height="49.88" fill="#dc8a18"/><line x1="192.0" y1="638.2" x2="192.0" y2="641.7" stroke="#111" stroke-width="1.2"/><text transform="translate(178.09,653.80) scale(1.000,1)" font-family='"Liberation Sans", sans-serif' font-size="9.6" fill="#222" stroke="#222" stroke-width="0.18">AML-2</text><line x1="250.30" y1="510.4" x2="250.30" y2="478.6" stroke="#1a1a1a" stroke-width="1.3"/><line x1="247.50" y1="478.6" x2="253.10" y2="478.6" stroke="#1a1a1a" stroke-width="1.5"/><rect x="244.70" y="510.43" width="11.2" height="127.77" fill="#2c4679"/><line x1="265.02" y1="545.6" x2="265.02" y2="526.6" stroke="#1a1a1a" stroke-width="1.3"/><line x1="262.22" y1="526.6" x2="267.82" y2="526.6" stroke="#1a1a1a" stroke-width="1.5"/><rect x="259.42" y="545.58" width="11.2" height="92.62" fill="#69a9e0"/><line x1="279.74" y1="498.6" x2="279.74" y2="468.6" stroke="#1a1a1a" stroke-width="1.3"/><line x1="276.94" y1="468.6" x2="282.54" y2="468.6" stroke="#1a1a1a" stroke-width="1.5"/><rect x="274.14" y="498.55" width="11.2" height="139.65" fill="#64a93b"/><line x1="294.46" y1="520.4" x2="294.46" y2="488.6" stroke="#1a1a1a" stroke-width="1.3"/><line x1="291.66" y1="488.6" x2="297.26" y2="488.6" stroke="#1a1a1a" stroke-width="1.5"/><rect x="288.86" y="520.40" width="11.2" height="117.80" fill="#2f6a4c"/><line x1="309.18" y1="564.6" x2="309.18" y2="543.7" stroke="#1a1a1a" stroke-width="1.3"/><line x1="306.38" y1="543.7" x2="311.98" y2="543.7" stroke="#1a1a1a" stroke-width="1.5"/><rect x="303.58" y="564.58" width="11.2" height="73.62" fill="#dc8a18"/><line x1="279.7" y1="638.2" x2="279.7" y2="641.7" stroke="#111" stroke-width="1.2"/><text transform="translate(265.80,653.80) scale(1.000,1)" font-family='"Liberation Sans", sans-serif' font-size="9.6" fill="#222" stroke="#222" stroke-width="0.18">AML-3</text><line x1="338.05" y1="565.5" x2="338.05" y2="558.4" stroke="#1a1a1a" stroke-width="1.3"/><line x1="335.25" y1="558.4" x2="340.85" y2="558.4" stroke="#1a1a1a" stroke-width="1.5"/><rect x="332.45" y="565.53" width="11.2" height="72.67" fill="#2c4679"/><line x1="352.77" y1="567.4" x2="352.77" y2="557.0" stroke="#1a1a1a" stroke-width="1.3"/><line x1="349.97" y1="557.0" x2="355.57" y2="557.0" stroke="#1a1a1a" stroke-width="1.5"/><rect x="347.17" y="567.43" width="11.2" height="70.78" fill="#69a9e0"/><line x1="367.49" y1="560.8" x2="367.49" y2="557.9" stroke="#1a1a1a" stroke-width="1.3"/><line x1="364.69" y1="557.9" x2="370.29" y2="557.9" stroke="#1a1a1a" stroke-width="1.5"/><rect x="361.89" y="560.78" width="11.2" height="77.42" fill="#64a93b"/><line x1="382.21" y1="571.2" x2="382.21" y2="567.4" stroke="#1a1a1a" stroke-width="1.3"/><line x1="379.41" y1="567.4" x2="385.01" y2="567.4" stroke="#1a1a1a" stroke-width="1.5"/><rect x="376.61" y="571.23" width="11.2" height="66.97" fill="#2f6a4c"/><line x1="396.93" y1="601.2" x2="396.93" y2="591.7" stroke="#1a1a1a" stroke-width="1.3"/><line x1="394.13" y1="591.7" x2="399.73" y2="591.7" stroke="#1a1a1a" stroke-width="1.5"/><rect x="391.33" y="601.15" width="11.2" height="37.05" fill="#dc8a18"/><line x1="367.5" y1="638.2" x2="367.5" y2="641.7" stroke="#111" stroke-width="1.2"/><text transform="translate(353.50,653.80) scale(1.000,1)" font-family='"Liberation Sans", sans-serif' font-size="9.6" fill="#222" stroke="#222" stroke-width="0.18">AML-4</text><line x1="425.80" y1="638.2" x2="425.80" y2="636.3" stroke="#1a1a1a" stroke-width="1.3"/><line x1="423.00" y1="636.3" x2="428.60" y2="636.3" stroke="#1a1a1a" stroke-width="1.5"/><line x1="455.24" y1="638.2" x2="455.24" y2="635.8" stroke="#1a1a1a" stroke-width="1.3"/><line x1="452.44" y1="635.8" x2="458.04" y2="635.8" stroke="#1a1a1a" stroke-width="1.5"/><line x1="469.96" y1="628.7" x2="469.96" y2="618.7" stroke="#1a1a1a" stroke-width="1.3"/><line x1="467.16" y1="618.7" x2="472.76" y2="618.7" stroke="#1a1a1a" stroke-width="1.5"/><rect x="464.36" y="628.70" width="11.2" height="9.50" fill="#2f6a4c"/><line x1="455.2" y1="638.2" x2="455.2" y2="641.7" stroke="#111" stroke-width="1.2"/><text transform="translate(441.30,653.80) scale(1.000,1)" font-family='"Liberation Sans", sans-serif' font-size="9.6" fill="#222" stroke="#222" stroke-width="0.18">AML-5</text><line x1="63.6" y1="444.3" x2="63.6" y2="638.9000000000001" stroke="#111" stroke-width="1.3"/><line x1="59.4" y1="638.2" x2="63.6" y2="638.2" stroke="#111" stroke-width="1.2"/><text transform="translate(51.31,641.40) scale(1.000,1)" font-family='"Liberation Sans", sans-serif' font-size="9.4" fill="#222" stroke="#222" stroke-width="0.18">0</text><line x1="59.4" y1="590.7" x2="63.6" y2="590.7" stroke="#111" stroke-width="1.2"/><text transform="translate(46.10,593.90) scale(1.000,1)" font-family='"Liberation Sans", sans-serif' font-size="9.4" fill="#222" stroke="#222" stroke-width="0.18">10</text><line x1="59.4" y1="543.2" x2="63.6" y2="543.2" stroke="#111" stroke-width="1.2"/><text transform="translate(46.10,546.40) scale(1.000,1)" font-family='"Liberation Sans", sans-serif' font-size="9.4" fill="#222" stroke="#222" stroke-width="0.18">20</text><line x1="59.4" y1="495.7" x2="63.6" y2="495.7" stroke="#111" stroke-width="1.2"/><text transform="translate(46.10,498.90) scale(1.000,1)" font-family='"Liberation Sans", sans-serif' font-size="9.4" fill="#222" stroke="#222" stroke-width="0.18">30</text><line x1="59.4" y1="448.2" x2="63.6" y2="448.2" stroke="#111" stroke-width="1.2"/><text transform="translate(46.09,451.40) scale(1.000,1)" font-family='"Liberation Sans", sans-serif' font-size="9.4" fill="#222" stroke="#222" stroke-width="0.18">40</text><line x1="63" y1="638.2" x2="494" y2="638.2" stroke="#111" stroke-width="1.5"/><text transform="translate(38.3,557.6) rotate(-90)" font-family='"Liberation Sans", sans-serif' font-size="10.3" fill="#222" stroke="#222" stroke-width="0.18" textLength="32.2" lengthAdjust="spacingAndGlyphs">% lysis</text><line x1="93.7" y1="659.3" x2="379" y2="659.3" stroke="#111" stroke-width="1.4"/><line x1="423" y1="659.3" x2="489" y2="659.3" stroke="#111" stroke-width="1.4"/><text x="223" y="674" font-family='"Liberation Sans", sans-serif' font-size="9.6" fill="#222" stroke="#222" stroke-width="0.18">HA-1<tspan font-size="6.5" dy="-3.5">+</tspan></text><text x="444.5" y="674" font-family='"Liberation Sans", sans-serif' font-size="9.6" fill="#222" stroke="#222" stroke-width="0.18">HA-1<tspan font-size="6.5" dy="-3.5">-</tspan></text><rect x="393.6" y="446.0" width="14" height="7" fill="#2c4679"/><text x="411" y="453.1" font-family='"Liberation Sans", sans-serif' font-size="9.1" fill="#222" stroke="#222" stroke-width="0.18">iC9-TCR2</text><rect x="393.6" y="459.2" width="14" height="7" fill="#69a9e0"/><text x="411" y="466.4" font-family='"Liberation Sans", sans-serif' font-size="9.1" fill="#222" stroke="#222" stroke-width="0.18">TCR2-CD8</text><rect x="393.6" y="472.5" width="14" height="7" fill="#64a93b"/><text x="411" y="479.6" font-family='"Liberation Sans", sans-serif' font-size="9.1" fill="#222" stroke="#222" stroke-width="0.18">iC9-TCR2-CD8</text><rect x="393.6" y="485.8" width="14" height="7" fill="#2f6a4c"/><text x="411" y="492.9" font-family='"Liberation Sans", sans-serif' font-size="9.1" fill="#222" stroke="#222" stroke-width="0.18">iC9-TCR2-RQR_CD8</text><rect x="393.6" y="499.0" width="14" height="7" fill="#dc8a18"/><text x="411" y="506.1" font-family='"Liberation Sans", sans-serif' font-size="9.1" fill="#222" stroke="#222" stroke-width="0.18">iC9-Q_TCR2-CD8</text></svg></body></html>
